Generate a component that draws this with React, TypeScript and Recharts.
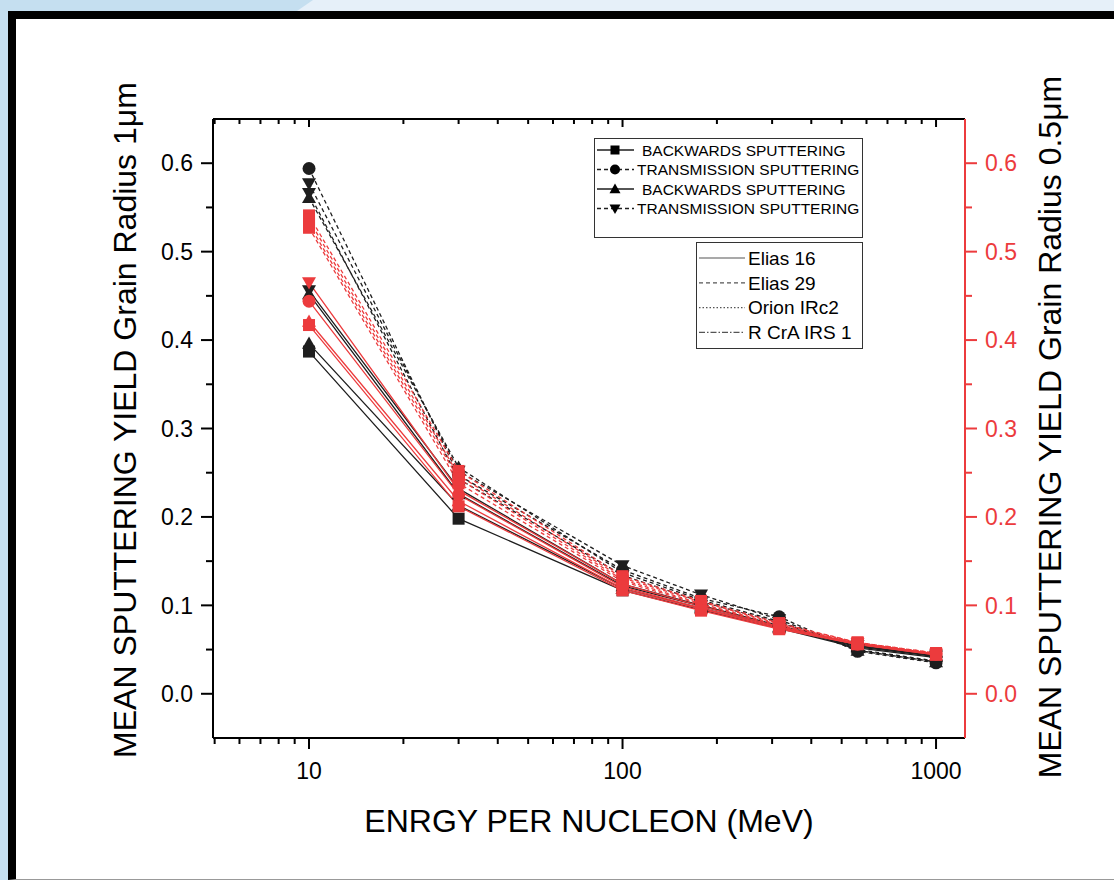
import { Line, LineChart, XAxis, YAxis } from 'recharts'

const FONT = '"Liberation Sans", Arial, sans-serif'
const RED = '#ec3b3d'
const INK = '#1e1e1e'

// energy per nucleon (MeV)
const ENERGY = [10, 30, 100, 178, 316, 562, 1000]

// grain radius 1 μm (black, left axis)
const BLACK_TRANS_CIRCLE = [0.594, 0.247, 0.14, 0.108, 0.087, 0.048, 0.035]
const BLACK_TRANS_DOWN = [0.577, 0.252, 0.145, 0.112, 0.084, 0.049, 0.036]
const BLACK_TRANS_UP = [0.561, 0.256, 0.137, 0.106, 0.082, 0.049, 0.036]
const BLACK_TRANS_DOWN_2 = [0.566, 0.243, 0.134, 0.104, 0.081, 0.05, 0.037]
const BLACK_BACK_DOWN = [0.456, 0.232, 0.124, 0.1, 0.077, 0.055, 0.043]
const BLACK_BACK_UP = [0.452, 0.226, 0.122, 0.099, 0.076, 0.054, 0.043]
const BLACK_BACK_UP_2 = [0.396, 0.213, 0.119, 0.097, 0.075, 0.053, 0.042]
const BLACK_BACK_SQUARE = [0.387, 0.198, 0.117, 0.095, 0.074, 0.052, 0.041]

// grain radius 0.5 μm (red, right axis)
const RED_TRANS_1 = [0.541, 0.252, 0.133, 0.105, 0.08, 0.058, 0.046]
const RED_TRANS_2 = [0.536, 0.247, 0.131, 0.104, 0.079, 0.058, 0.046]
const RED_TRANS_3 = [0.531, 0.243, 0.129, 0.102, 0.078, 0.057, 0.045]
const RED_TRANS_4 = [0.527, 0.238, 0.127, 0.101, 0.077, 0.057, 0.045]
const RED_BACK_DOWN = [0.465, 0.23, 0.124, 0.099, 0.076, 0.057, 0.045]
const RED_BACK_CIRCLE = [0.444, 0.225, 0.121, 0.097, 0.075, 0.056, 0.045]
const RED_BACK_UP = [0.421, 0.218, 0.119, 0.096, 0.074, 0.056, 0.044]
const RED_BACK_SQUARE = [0.417, 0.212, 0.117, 0.094, 0.073, 0.056, 0.044]

const X_TICKS = [5, 6, 7, 8, 9, 10, 20, 30, 40, 50, 60, 70, 80, 90, 100, 200, 300, 400, 500, 600, 700, 800, 900, 1000]
const X_MAJOR = [10, 100, 1000]
const Y_TICKS = [0, 0.05, 0.1, 0.15, 0.2, 0.25, 0.3, 0.35, 0.4, 0.45, 0.5, 0.55, 0.6]
const Y_MAJOR = [0, 0.1, 0.2, 0.3, 0.4, 0.5, 0.6]

const LEGEND_MARKERS = [
  { shape: 'square', dashed: false, label: 'BACKWARDS SPUTTERING' },
  { shape: 'circle', dashed: true, label: 'TRANSMISSION SPUTTERING' },
  { shape: 'up', dashed: false, label: 'BACKWARDS SPUTTERING' },
  { shape: 'down', dashed: true, label: 'TRANSMISSION SPUTTERING' },
]
const LEGEND_SOURCES = [
  { dash: undefined, label: 'Elias 16' },
  { dash: '4 3', label: 'Elias 29' },
  { dash: '1.5 2', label: 'Orion IRc2' },
  { dash: '6 2 1.5 2', label: 'R CrA IRS 1' },
]

type Shape = 'square' | 'circle' | 'up' | 'down'
type Series = { key: string; values: number[]; color: string; axis: 'left' | 'right'; dashed: boolean; shape: Shape }

const SERIES: Series[] = [
  { key: 'bTc', values: BLACK_TRANS_CIRCLE, color: INK, axis: 'left', dashed: true, shape: 'circle' },
  { key: 'bTd', values: BLACK_TRANS_DOWN, color: INK, axis: 'left', dashed: true, shape: 'down' },
  { key: 'bTu', values: BLACK_TRANS_UP, color: INK, axis: 'left', dashed: true, shape: 'up' },
  { key: 'bTd2', values: BLACK_TRANS_DOWN_2, color: INK, axis: 'left', dashed: true, shape: 'down' },
  { key: 'bBd', values: BLACK_BACK_DOWN, color: INK, axis: 'left', dashed: false, shape: 'down' },
  { key: 'bBu', values: BLACK_BACK_UP, color: INK, axis: 'left', dashed: false, shape: 'up' },
  { key: 'bBu2', values: BLACK_BACK_UP_2, color: INK, axis: 'left', dashed: false, shape: 'up' },
  { key: 'bBs', values: BLACK_BACK_SQUARE, color: INK, axis: 'left', dashed: false, shape: 'square' },
  { key: 'rT1', values: RED_TRANS_1, color: RED, axis: 'right', dashed: true, shape: 'square' },
  { key: 'rT2', values: RED_TRANS_2, color: RED, axis: 'right', dashed: true, shape: 'square' },
  { key: 'rT3', values: RED_TRANS_3, color: RED, axis: 'right', dashed: true, shape: 'square' },
  { key: 'rT4', values: RED_TRANS_4, color: RED, axis: 'right', dashed: true, shape: 'square' },
  { key: 'rBd', values: RED_BACK_DOWN, color: RED, axis: 'right', dashed: false, shape: 'down' },
  { key: 'rBc', values: RED_BACK_CIRCLE, color: RED, axis: 'right', dashed: false, shape: 'circle' },
  { key: 'rBu', values: RED_BACK_UP, color: RED, axis: 'right', dashed: false, shape: 'up' },
  { key: 'rBs', values: RED_BACK_SQUARE, color: RED, axis: 'right', dashed: false, shape: 'square' },
]

const chartData = ENERGY.map((energy, i) => {
  const row: Record<string, number> = { energy }
  SERIES.forEach((s) => { row[s.key] = s.values[i] })
  return row
})

function Marker({ shape, cx, cy, color, size = 7 }: { shape: Shape; cx: number; cy: number; color: string; size?: number }) {
  const s = size
  if (shape === 'circle') return <circle cx={cx} cy={cy} r={s - 0.5} fill={color} />
  if (shape === 'square') return <rect x={cx - s + 1} y={cy - s + 1} width={2 * s - 2} height={2 * s - 2} fill={color} />
  if (shape === 'up') return <polygon points={`${cx},${cy - s} ${cx + s},${cy + s * 0.75} ${cx - s},${cy + s * 0.75}`} fill={color} />
  return <polygon points={`${cx - s},${cy - s * 0.75} ${cx + s},${cy - s * 0.75} ${cx},${cy + s}`} fill={color} />
}

function makeDot(shape: Shape, color: string) {
  return (props: any) => {
    const { cx, cy, index } = props
    if (cx == null || cy == null) return <g key={index} />
    return <g key={index}><Marker shape={shape} cx={cx} cy={cy} color={color} /></g>
  }
}

function BottomTick({ x, y, payload }: any) {
  const major = X_MAJOR.includes(payload.value)
  return (
    <g>
      <line x1={x} x2={x} y1={y} y2={y + (major ? 11 : 6)} stroke="#000" strokeWidth={2} />
      {major && (
        <text x={x} y={y + 41} textAnchor="middle" fontSize={23} fontFamily={FONT} fill="#000">
          {payload.value}
        </text>
      )}
    </g>
  )
}

function TopTick({ x, y, payload }: any) {
  const major = X_MAJOR.includes(payload.value)
  return <line x1={x} x2={x} y1={y} y2={y + (major ? 8 : 5)} stroke="#000" strokeWidth={2} />
}

function LeftTick({ x, y, payload }: any) {
  const major = Y_MAJOR.some((v) => Math.abs(v - payload.value) < 1e-6)
  return (
    <g>
      <line x1={x} x2={x - (major ? 12 : 7)} y1={y} y2={y} stroke="#000" strokeWidth={2} />
      {major && (
        <text x={x - 20} y={y} dy="0.36em" textAnchor="end" fontSize={23} fontFamily={FONT} fill="#000">
          {payload.value.toFixed(1)}
        </text>
      )}
    </g>
  )
}

function RightTick({ x, y, payload }: any) {
  const major = Y_MAJOR.some((v) => Math.abs(v - payload.value) < 1e-6)
  return (
    <g>
      <line x1={x} x2={x + (major ? 12 : 7)} y1={y} y2={y} stroke={RED} strokeWidth={2} />
      {major && (
        <text x={x + 20} y={y} dy="0.36em" textAnchor="start" fontSize={23} fontFamily={FONT} fill={RED}>
          {payload.value.toFixed(1)}
        </text>
      )}
    </g>
  )
}

function VerticalTitle({ x, y, text }: { x: number; y: number; text: string }) {
  return (
    <text x={x} y={y} transform={`rotate(-90 ${x} ${y})`} textAnchor="middle" fontSize={32} fontFamily={FONT} fill="#000">
      {text}
    </text>
  )
}

function MarkerLegend() {
  return (
    <div style={{ position: 'absolute', left: 594, top: 138, width: 269, height: 100, border: '1px solid #333', boxSizing: 'border-box', background: '#fff' }}>
      <svg width={267} height={98}>
        {LEGEND_MARKERS.map((m, i) => {
          const y = 11 + i * 19.5
          return (
            <g key={i}>
              <line x1={2} x2={39} y1={y} y2={y} stroke={INK} strokeWidth={1.3} strokeDasharray={m.dashed ? '4 3' : undefined} />
              <Marker shape={m.shape as Shape} cx={20} cy={y} color="#000" size={5.5} />
              <text x={m.dashed ? 42 : 47} y={y} dy="0.36em" fontSize={15.5} fontFamily={FONT} fill="#000">{m.label}</text>
            </g>
          )
        })}
      </svg>
    </div>
  )
}

function SourceLegend() {
  return (
    <div style={{ position: 'absolute', left: 696, top: 242, width: 167, height: 107, border: '1px solid #333', boxSizing: 'border-box', background: '#fff' }}>
      <svg width={165} height={105}>
        {LEGEND_SOURCES.map((s, i) => {
          const y = 15 + i * 24.8
          return (
            <g key={i}>
              <line x1={2} x2={48} y1={y} y2={y} stroke="#555" strokeWidth={1.2} strokeDasharray={s.dash} />
              <text x={51} y={y} dy="0.36em" fontSize={19} fontFamily={FONT} fill="#000">{s.label}</text>
            </g>
          )
        })}
      </svg>
    </div>
  )
}

export default function App() {
  return (
    <div style={{ position: 'absolute', left: 0, top: 0, width: 1114, height: 880, background: '#c5dff0', overflow: 'hidden' }}>
      <svg width={1114} height={20} style={{ position: 'absolute', left: 0, top: 0 }}>
        <polygon points="297,11 313,0 1114,0 1114,11" fill="#e6f0f9" />
      </svg>
      <div
        style={{
          position: 'absolute', left: 8, top: 11, width: 1106, height: 869,
          borderTop: '8px solid #000', borderLeft: '8px solid #000', borderBottom: '1px solid #999',
          background: '#fff', boxSizing: 'border-box',
        }}
      />
      <div style={{ position: 'absolute', left: 0, top: 0 }}>
        <LineChart width={1114} height={880} data={chartData} margin={{ top: 118, right: 0, bottom: 0, left: 0 }}>
          <XAxis
            dataKey="energy" type="number" scale="log" domain={[4.94, 1237]} allowDataOverflow
            ticks={X_TICKS} interval={0} tickSize={0} tickMargin={0} tickLine={false}
            tick={<BottomTick />} height={142} stroke="#000" strokeWidth={2}
            label={{ content: () => <text x={589} y={832} textAnchor="middle" fontSize={32} fontFamily={FONT} fill="#000">ENRGY PER NUCLEON (MeV)</text> }}
          />
          <XAxis
            xAxisId="top" orientation="top" dataKey="energy" type="number" scale="log" domain={[4.94, 1237]} allowDataOverflow
            ticks={X_TICKS} interval={0} tickSize={0} tickMargin={0} tickLine={false}
            tick={<TopTick />} height={1} stroke="#000" strokeWidth={2}
          />
          <YAxis
            yAxisId="left" type="number" domain={[-0.05, 0.65]} allowDataOverflow
            ticks={Y_TICKS} interval={0} tickSize={0} tickMargin={0} tickLine={false}
            tick={<LeftTick />} width={213} stroke="#000" strokeWidth={2}
            label={{ content: () => <VerticalTitle x={136} y={420} text="MEAN SPUTTERING YIELD Grain Radius 1μm" /> }}
          />
          <YAxis
            yAxisId="right" orientation="right" type="number" domain={[-0.05, 0.65]} allowDataOverflow
            ticks={Y_TICKS} interval={0} tickSize={0} tickMargin={0} tickLine={false}
            tick={<RightTick />} width={149} stroke={RED} strokeWidth={2}
            label={{ content: () => <VerticalTitle x={1061} y={427} text="MEAN SPUTTERING YIELD Grain Radius 0.5μm" /> }}
          />
          {SERIES.map((s) => (
            <Line
              key={s.key}
              dataKey={s.key}
              yAxisId={s.axis}
              type="linear"
              stroke={s.color}
              strokeWidth={1.3}
              strokeDasharray={s.dashed ? '4 3' : undefined}
              dot={makeDot(s.shape, s.color)}
              activeDot={false}
              isAnimationActive={false}
            />
          ))}
        </LineChart>
      </div>
      <MarkerLegend />
      <SourceLegend />
    </div>
  )
}
